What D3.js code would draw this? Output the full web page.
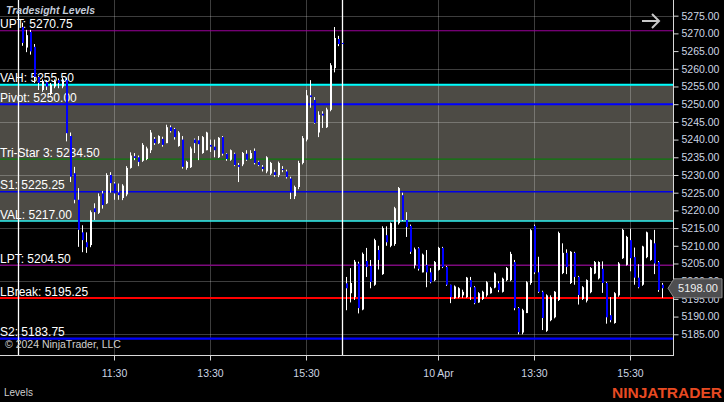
<!DOCTYPE html>
<html><head><meta charset="utf-8">
<script src="https://cdn.jsdelivr.net/npm/d3@7"></script>
<style>body{margin:0;background:#000;overflow:hidden}svg{display:block}</style>
</head><body>
<svg id="c" width="724" height="402"></svg>
<script>
// ---- data ----
// 5-minute bars, index 1..81 = 9 Apr RTH session, 82..161 = 10 Apr session
const opens = [
5271.8,5266,5270.4,5266.2,5257.7,5254,5256.2,5253,5255,5256.8,
5255,5256.8,5241,5230.5,5223,5213.8,5211,5210.2,5220.6,5219.3,
5224.8,5222,5230,5227.6,5225.1,5223.5,5224.5,5232,5235.3,5235,
5234,5234.5,5237,5240.2,5239,5240.2,5239,5243.5,5243,5238.2,
5240,5232,5232.2,5240,5239.8,5236.2,5237,5238.5,5238,5235,
5240.7,5236,5234.3,5236,5232.8,5233,5236,5234.7,5236.8,5233.7,
5232.3,5231,5230.4,5230.8,5230,5231.7,5231,5229,5224,5226.6,
5233.4,5240,5252.5,5251.2,5242,5247.3,5243.5,5248.4,5260.2,5268.4,
5267.3,
5199.4,5196.6,5195.5,5205,5192,5205.7,5204.3,5199,5208.8,
5202,5213,5210,5210.5,5216.4,5224.3,5217.3,5215.6,5204.5,5209.3,
5202.5,5204.6,5202.5,5200.3,5203.2,5209.4,5204,5199,5195.2,5195.5,
5196,5195.5,5200.3,5198.3,5194,5195,5196,5196.6,5198.2,5199.4,
5197,5200.3,5200.3,5205.4,5192.4,5185.5,5191,5199.5,5215.6,5202.5,
5197,5186,5189,5189.8,5194.7,5202.3,5208,5199.5,5208,5201.2,
5195,5194.5,5196.9,5202.2,5200.8,5203.5,5199.5,5190.4,5188.2,5196,
5206.5,5204.6,5211.6,5206.8,5201,5199,5206.8,5206,5210.7,5205.4,
5199];
const highs = [
5273,5271,5271,5267,5258,5257,5256.8,5256,5257,5257.3,
5257.5,5257.5,5242,5232.3,5226.3,5215.8,5213.8,5220,5222,5224.8,
5225.5,5230.5,5230.8,5228,5227.6,5227.4,5232.5,5236.4,5236.2,5235.5,
5239,5238,5242.7,5240.7,5241.2,5240.8,5244.2,5244,5243.3,5242.4,
5241,5234,5238,5240.3,5241,5241,5242.2,5240,5240,5240.7,
5241,5236.2,5237.2,5236.3,5233.4,5236.5,5237,5237,5237.5,5234,
5232.8,5235.3,5233.7,5231.5,5233.8,5232.5,5231.5,5229.5,5227,5234,
5241,5254,5256.8,5252,5248,5248,5249,5261.6,5271.8,5269.3,
5267.5,
5201.2,5203.7,5206,5205.5,5208.1,5209.4,5206,5212,5210,
5215.5,5215.5,5216.6,5221,5226.6,5225,5219.5,5216,5209.5,5209.6,
5207.8,5208.8,5203.7,5205.7,5209.7,5209.7,5204.3,5199,5198.8,5198.3,
5197.6,5201.2,5201.2,5198.6,5196.9,5197.3,5200,5198.4,5202.5,5200,
5201,5204,5208.3,5206,5192.7,5192.2,5200,5214.7,5216,5206.9,
5197.3,5196.3,5196,5197.2,5214,5210.7,5209,5208.5,5208.3,5201.5,
5198.6,5200.5,5204,5205.7,5205.6,5205.6,5199.8,5195.5,5196.9,5205.4,
5214.8,5212.8,5214.8,5209.5,5204.8,5210,5214,5211.8,5214.5,5205.7,
5199.5];
const lows = [
5266.5,5264.7,5264,5256,5254,5253.5,5254,5252.5,5254.5,5254.5,
5254.5,5239.5,5228,5222,5209.7,5208.2,5208,5209.6,5217.3,5219,
5220.5,5221.8,5225,5223,5223,5222.9,5224,5231.8,5234.2,5232.5,
5233.7,5234.2,5236.2,5238.5,5238.8,5238,5239,5242,5240,5238,
5231.8,5231.5,5232,5236.2,5234.2,5236,5237,5236.5,5235,5234.8,
5235.5,5234,5234,5232.5,5228,5232.5,5234,5234.5,5233,5232.5,
5231,5230.5,5230,5229.5,5229.4,5230.8,5229,5223.2,5223.2,5226,
5233,5239.5,5249,5244.5,5240.7,5243.3,5243.3,5248,5259,5266.4,
5266.8,
5191.8,5194,5194.7,5190.9,5191.8,5201.2,5198,5198.7,5203.3,
5201.8,5210,5209.6,5210,5216,5217,5212.5,5207.7,5203.6,5203,
5202.5,5198.3,5199.4,5200,5203,5203.7,5198.7,5193.8,5195,5195.2,
5195.3,5195.3,5194.7,5193.5,5193.9,5194.7,5195.6,5196.5,5198,5196.9,
5196.8,5200,5200,5191.8,5185,5185,5191,5199,5202,5196.7,
5186.2,5185.7,5188.7,5189.5,5194.4,5202,5202,5199.2,5199,5193.4,
5194.7,5194,5196.6,5202,5200.5,5196.7,5188,5188.4,5188,5195.6,
5206.3,5204.4,5202.8,5199,5198,5198.7,5206.5,5205.8,5202,5197,
5195.3];
const closes = [
5267.3,5269.5,5264.9,5257.7,5256,5256.5,5255,5255.5,5256.5,5256,
5257,5241.8,5229.5,5223,5214.5,5211.6,5209.6,5219.5,5219.5,5224,
5221.5,5230,5227.7,5224.8,5224.3,5227,5232,5235.5,5234.8,5233.7,
5238.5,5237.5,5242,5239,5241,5238.5,5243.5,5242.4,5240.7,5242,
5232.3,5233.7,5237.5,5239,5238.7,5240.7,5242,5238,5237,5240.5,
5236,5234.5,5237,5232.8,5232.3,5236.2,5234.3,5236.2,5233.4,5232.8,
5231.7,5235,5233.4,5230,5233.4,5231.4,5229.4,5225,5226.6,5233.4,
5240.4,5252.5,5252,5244.7,5247,5246.8,5248.5,5261,5268.7,5267,
5267,
5198,5199.5,5205.5,5192.4,5207.7,5204,5199.8,5211.6,5206,
5215,5211,5216.4,5220.6,5226.3,5217.3,5215.3,5208.3,5209,5203.5,
5207.5,5202.5,5199.7,5205.4,5209.4,5204,5199,5195.5,5198.5,5198,
5197,5201,5198.3,5193.8,5196.6,5197,5199.7,5198,5202.2,5197.5,
5200.7,5203.7,5207.7,5192.4,5185.6,5191.8,5199.7,5214.4,5202.5,5197,
5189.6,5196,5195.5,5197,5213.6,5208,5204,5208.3,5201.2,5196.1,
5198.3,5200.3,5203.7,5205.4,5205.4,5199.5,5189.8,5189,5196.6,5205,
5214.5,5212.5,5206.5,5201,5198.3,5209.8,5213.8,5211.6,5205,5197.5,
5198];

const levelNames  = ["UPT","VAH","Pivot","Tri-Star 3","S1","VAL","LPT","LBreak","S2"];
const levelValues = [5270.75,5255.50,5250.00,5234.50,5225.25,5217.00,5204.50,5195.25,5183.75];

const priceTicks = d3.range(5185, 5276, 5);
const gridPrices = [5185,5200,5215,5230,5245,5260,5275];
const timeTickIdx = [24,48,72,105,129,153];
const timeTickLabels = ["11:30","13:30","15:30","10 Apr","13:30","15:30"];
const sessionBreakIdx = [0,81];
const lastPrice = 5198.00;

// ---- styles ----
const levelStyle = {
  "UPT":{c:"#9a009a",w:1.2},
  "VAH":{c:"#00ffff",w:2},
  "Pivot":{c:"#0000ff",w:2},
  "Tri-Star 3":{c:"#0b7a0b",w:1.2},
  "S1":{c:"#0000e6",w:1.6},
  "VAL":{c:"#2ff0f0",w:1.6},
  "LPT":{c:"#7d0a7d",w:1.6},
  "LBreak":{c:"#ff0000",w:2},
  "S2":{c:"#0000ff",w:2.2}
};

const W = 724, H = 402;
const plotR = 673, plotB = 355;
const svg = d3.select("#c");
svg.append("rect").attr("width",W).attr("height",H).attr("fill","#000");

const x = d3.scaleLinear().domain([-4.5, 163.5]).range([0, 672]);
const y = d3.scaleLinear().domain([5179.15, 5279.43]).range([plotB, 0]);

const bars = opens.map((o,k)=>({i:k+1,o,h:highs[k],l:lows[k],c:closes[k]}));
const levels = levelNames.map((n,k)=>({n,v:levelValues[k]}));
const vah = levelValues[levelNames.indexOf("VAH")];
const val = levelValues[levelNames.indexOf("VAL")];

const g = svg.append("g");
// value-area band
g.append("rect").attr("x",0).attr("width",plotR).attr("y",y(vah)).attr("height",y(val)-y(vah)).attr("fill","#4d4b45");

// grid
g.selectAll("line.hg").data(gridPrices).join("line")
  .attr("x1",0).attr("x2",plotR).attr("y1",d=>Math.round(y(d))+0.5).attr("y2",d=>Math.round(y(d))+0.5)
  .attr("stroke","rgba(255,255,255,0.24)").attr("stroke-width",1);
g.selectAll("line.vg").data(timeTickIdx).join("line")
  .attr("x1",d=>x(d)+0.5).attr("x2",d=>x(d)+0.5).attr("y1",0).attr("y2",plotB)
  .attr("stroke","rgba(255,255,255,0.24)").attr("stroke-width",1);

// level lines
g.selectAll("line.lv").data(levels).join("line")
  .attr("x1",0).attr("x2",plotR).attr("y1",d=>y(d.v)).attr("y2",d=>y(d.v))
  .attr("stroke",d=>levelStyle[d.n].c).attr("stroke-width",d=>levelStyle[d.n].w);

// session breaks
g.selectAll("line.sb").data(sessionBreakIdx).join("line")
  .attr("x1",d=>x(d)+0.5).attr("x2",d=>x(d)+0.5).attr("y1",0).attr("y2",plotB)
  .attr("stroke","#fff").attr("stroke-width",1.3);

// level labels
g.selectAll("text.lv").data(levels).join("text")
  .attr("x",0).attr("y",d=>y(d.v)-2.5)
  .attr("font-family","Arial, 'Liberation Sans', sans-serif").attr("font-size",12)
  .attr("fill","#fff").text(d=>d.n+": "+d.v.toFixed(2));

// candles
const cg = g.append("g");
cg.selectAll("rect.wick").data(bars).join("rect")
  .attr("x",d=>x(d.i)).attr("width",1)
  .attr("y",d=>y(d.h)).attr("height",d=>Math.max(1,y(d.l)-y(d.h)))
  .attr("fill","#fff");
cg.selectAll("rect.body").data(bars).join("rect")
  .attr("x",d=>x(d.i)).attr("width",2)
  .attr("y",d=>y(Math.max(d.o,d.c))).attr("height",d=>Math.max(1,Math.abs(y(d.o)-y(d.c))))
  .attr("fill",d=>d.c>=d.o?"#fff":"#0000ff");

// right axis
const yAxis = d3.axisRight(y).tickValues(priceTicks).tickFormat(d3.format(".2f")).tickSize(5).tickPadding(3);
const ya = svg.append("g").attr("transform",`translate(${plotR+0.5},0)`).call(yAxis);
ya.select(".domain").attr("stroke","#d8d8d8").attr("d",`M0,0V${plotB+1}`);
ya.selectAll(".tick line").attr("stroke","#d8d8d8");
ya.selectAll("text").attr("fill","#cdd5e3").attr("font-family","Arial, 'Liberation Sans', sans-serif").attr("font-size",10.5);

// bottom axis
const xAxis = d3.axisBottom(x).tickValues(timeTickIdx).tickFormat((d,k)=>timeTickLabels[k]).tickSize(5).tickPadding(9);
const xa = svg.append("g").attr("transform",`translate(0,${plotB+0.5})`).call(xAxis);
xa.select(".domain").attr("stroke","#d8d8d8").attr("d",`M0,0H${plotR+1}`);
xa.selectAll(".tick line").attr("stroke","#d8d8d8");
xa.selectAll("text").attr("fill","#cdd5e3").attr("font-family","Arial, 'Liberation Sans', sans-serif").attr("font-size",10.5);

// last price marker
const py = y(lastPrice);
svg.append("path")
  .attr("d",`M${plotR-5},${py} L${plotR+1},${py-9.5} L722,${py-9.5} L722,${py+9.5} L${plotR+1},${py+9.5} Z`)
  .attr("fill","#4e4e50").attr("stroke","#8c8c8c").attr("stroke-width",1);
svg.append("text").attr("x",698).attr("y",py+4).attr("text-anchor","middle")
  .attr("font-family","Arial, 'Liberation Sans', sans-serif").attr("font-size",11)
  .attr("fill","#f0f0f0").text(lastPrice.toFixed(2));

// titles and annotations
svg.append("text").attr("x",6).attr("y",14)
  .attr("font-family","Arial, 'Liberation Sans', sans-serif").attr("font-size",10.5)
  .attr("font-style","italic").attr("font-weight","bold").attr("fill","#c3cbd9").text("Tradesight Levels");
svg.append("text").attr("x",5).attr("y",348)
  .attr("font-family","Arial, 'Liberation Sans', sans-serif").attr("font-size",10.5)
  .attr("fill","#d0d0d0").text("© 2024 NinjaTrader, LLC");
svg.append("text").attr("x",4).attr("y",396)
  .attr("font-family","Arial, 'Liberation Sans', sans-serif").attr("font-size",10)
  .attr("fill","#cfcfcf").text("Levels");
svg.append("text").attr("x",722).attr("y",398).attr("text-anchor","end")
  .attr("font-family","Arial, 'Liberation Sans', sans-serif").attr("font-size",15.5).attr("font-weight","bold")
  .attr("fill","#e84a22").text("NINJATRADER");
// arrow icon
svg.append("path").attr("d","M642,21 H659 M652,14 L659,21 L652,28")
  .attr("fill","none").attr("stroke","#c8c8c8").attr("stroke-width",2);
</script>
</body></html>
